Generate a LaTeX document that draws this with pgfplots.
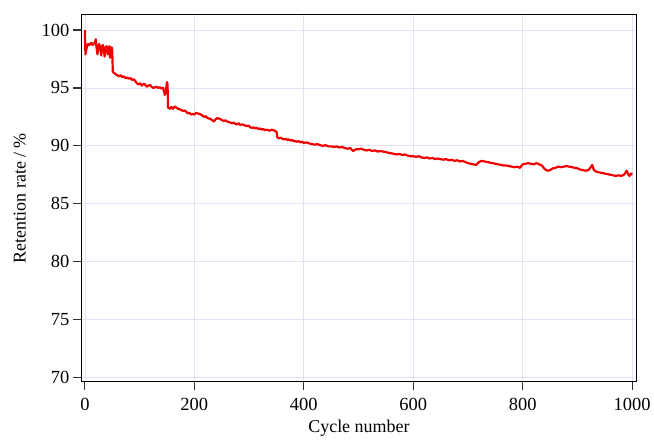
\documentclass[border=0pt]{standalone}
\usepackage{fontspec}
\setmainfont{Liberation Serif}
\usepackage{pgfplots}
\pgfplotsset{compat=1.18}
\definecolor{gridc}{RGB}{226,226,246}
\definecolor{linered}{RGB}{240,0,0}
\begin{document}
\begin{tikzpicture}
\begin{axis}[
  name=ax,
  width=555pt, height=367pt, scale only axis,
  xmin=-5.5, xmax=1007, ymin=69.65, ymax=101.3,
  xtick={0,200,...,1000}, ytick={70,75,...,100},
  tick align=outside, tick pos=left, major tick length=9pt,
  grid=major, grid style={color=gridc, line width=0.7pt},
  axis line style={black, line width=1pt},
  every tick/.style={black!80, line width=1.2pt},
  /pgf/number format/assume math mode=true,
  /pgf/number format/1000 sep={},
  tick label style={font=\fontsize{18.5}{20}\selectfont},
  xticklabel style={yshift=-4pt},
  label style={font=\fontsize{18}{20}\selectfont},
  xlabel={Cycle number},
  ylabel={Retention rate / \%},
  xlabel style={at={(axis description cs:0.5,-0.128)}, anchor=center},
  ylabel style={at={(axis description cs:-0.112,0.5)}, anchor=center, rotate=0},
]
\addplot[linered, line width=2.2pt, line join=round] coordinates {
(0,100.0)(1,97.9)(2,98.2)(4,98.6)(6,98.8)(8,98.7)(10,98.8)(12,98.9)(14,98.7)(16,98.8)(18,98.9)(20,99.2)(21,98.6)(23,97.9)(24,98.3)(26,98.8)(28,98.5)(30,97.8)(31,98.6)(33,98.7)(35,98.2)(36,97.7)(38,98.5)(40,98.6)(42,97.9)(43,98.4)(45,98.6)(46,97.6)(47,98.2)(49,98.5)(50,98.2)
(51,96.4)(53,96.3)(56,96.2)(59,96.1)(62,96.0)(65,96.1)(68,95.95)(71,96.0)(74,95.85)(77,95.9)(80,95.8)(83,95.85)(86,95.7)(89,95.75)(92,95.6)(95,95.4)(98,95.3)(101,95.4)(104,95.2)(107,95.35)(110,95.3)(113,95.1)(116,95.2)(119,95.25)(122,95.1)(125,95.0)(128,95.05)(131,95.1)(134,95.0)(137,95.05)(140,94.95)(143,95.0)(145,94.6)(146,94.4)(148,94.7)(150,95.5)(151,95.3)
(152,93.3)(155,93.2)(158,93.35)(161,93.2)(164,93.4)(167,93.3)(170,93.2)(173,93.15)(176,93.1)(179,93.0)(182,93.05)(185,92.95)(188,92.8)(191,92.85)(194,92.7)(197,92.75)(200,92.7)(203,92.85)(206,92.8)(209,92.75)(212,92.7)(215,92.6)(218,92.5)(221,92.55)(224,92.4)(227,92.35)(230,92.3)(233,92.2)(236,92.1)(239,92.3)(242,92.4)(245,92.35)(248,92.3)(251,92.2)(254,92.15)(257,92.2)(260,92.1)(263,92.05)(266,92.0)(269,91.95)(272,92.0)(275,91.9)(278,91.85)(281,91.95)(284,91.8)(287,91.85)(290,91.8)(293,91.75)(296,91.7)(299,91.75)(302,91.6)(305,91.55)(308,91.6)(311,91.5)(314,91.55)(317,91.45)(320,91.5)(323,91.4)(326,91.45)(329,91.35)(332,91.4)(335,91.35)(338,91.3)(341,91.4)(344,91.35)(347,91.3)(350,91.2)
(352,90.7)(355,90.65)(358,90.7)(361,90.6)(364,90.55)(367,90.6)(370,90.5)(373,90.55)(376,90.45)(379,90.5)(382,90.4)(385,90.4)(388,90.35)(391,90.4)(394,90.3)(397,90.35)(400,90.25)(405,90.3)(410,90.2)(415,90.15)(420,90.1)(425,90.15)(430,90.05)(435,90.0)(440,90.05)(445,89.95)(450,89.95)(455,89.9)(460,89.95)(465,89.85)(470,89.9)(475,89.8)(480,89.75)(485,89.8)(490,89.55)(495,89.7)(500,89.7)(505,89.75)(510,89.65)(515,89.6)(520,89.65)(525,89.55)(530,89.6)(535,89.5)(540,89.55)(545,89.5)(550,89.45)(555,89.4)(560,89.35)(565,89.3)(570,89.25)(575,89.3)(580,89.2)(585,89.25)(590,89.15)(595,89.1)(600,89.1)(605,89.05)(610,89.1)(615,89.0)(620,88.95)(625,89.0)(630,88.9)(635,88.95)(640,88.85)(645,88.9)(650,88.85)(655,88.8)(660,88.85)(665,88.75)(670,88.8)(675,88.7)(680,88.75)(685,88.65)(690,88.7)(695,88.6)(700,88.5)(705,88.45)(710,88.4)(715,88.35)(720,88.6)(725,88.7)(730,88.65)(735,88.6)(740,88.55)(745,88.5)(750,88.45)(755,88.4)(760,88.35)(765,88.3)(770,88.3)(775,88.25)(780,88.2)(785,88.15)(790,88.2)(795,88.1)(800,88.4)(805,88.45)(810,88.5)(815,88.45)(820,88.4)(825,88.5)(830,88.4)(835,88.3)(840,88.0)(845,87.85)(850,87.9)(855,88.05)(860,88.1)(865,88.2)(870,88.15)(875,88.2)(880,88.25)(885,88.2)(890,88.15)(895,88.1)(900,88.05)(905,87.95)(910,87.9)(915,87.85)(920,87.9)(925,88.2)(927,88.35)(930,87.9)(935,87.75)(940,87.7)(945,87.65)(950,87.6)(955,87.55)(960,87.5)(965,87.45)(970,87.4)(975,87.45)(980,87.4)(985,87.5)(990,87.85)(993,87.5)(995,87.4)(998,87.6)(1000,87.5)
};
\end{axis}
\path ([xshift=-82pt,yshift=-58pt]ax.south west) rectangle ([xshift=17pt,yshift=15pt]ax.north east);
\end{tikzpicture}
\end{document}
